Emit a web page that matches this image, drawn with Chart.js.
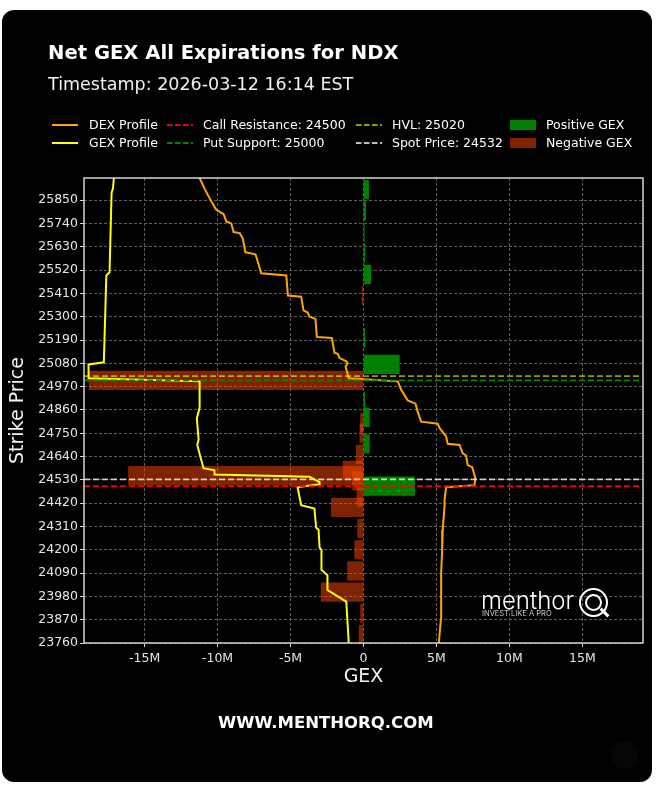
<!DOCTYPE html>
<html>
<head>
<meta charset="utf-8">
<title>Net GEX All Expirations for NDX</title>
<script src="https://cdn.jsdelivr.net/npm/chart.js@4.4.1/dist/chart.umd.min.js"></script>
<style>
  html, body { margin: 0; padding: 0; background: #ffffff; }
  body { position: relative; width: 659px; height: 785px; overflow: hidden; }
  #card { position: absolute; left: 2px; top: 10px; width: 650px; height: 772px; background: #000; border-radius: 12px; }
  #gexChart { position: absolute; left: 0; top: 0; }
  .txt { position: absolute; color: #fff; white-space: nowrap; }
  #title { left: 48px; top: 43px; font: 700 19.6px/19.6px "DejaVu Sans", sans-serif; }
  #subtitle { left: 48px; top: 76px; font: 400 17.5px/17.5px "DejaVu Sans", sans-serif; color: #f0f0f0; }
  .lg-text { position: absolute; font: 12.5px/14px "DejaVu Sans", sans-serif; color: #fff; white-space: nowrap; }
  .lg-mark { position: absolute; }
  #footer { left: 218px; top: 715px; font: 700 16.5px/16.5px "DejaVu Sans", sans-serif; }
  #logoWord { left: 481px; top: 589px; font: 300 24px/24px Inter, sans-serif; }
  #logoTag { left: 482px; top: 610px; font: 400 7.5px/7.5px Inter, sans-serif; color: #c8c8c8; }
  .ring { position: absolute; border: 2.5px solid #fff; border-radius: 50%; box-sizing: border-box; }
  #qOuter { left: 579px; top: 588px; width: 29px; height: 29px; }
  #qInner { left: 585px; top: 594px; width: 17px; height: 17px; border-width: 2px; }
  #qTail { position: absolute; left: 599px; top: 611px; width: 11px; height: 3px; background: #fff; transform: rotate(45deg); }
  #corner { position: absolute; left: 611px; top: 741px; width: 28px; height: 28px; border-radius: 50%; background: #060606; }
</style>
</head>
<body>
<div id="card"></div>
<div id="corner"></div>
<canvas id="gexChart" width="659" height="785"></canvas>
<div id="title" class="txt">Net GEX All Expirations for NDX</div>
<div id="subtitle" class="txt">Timestamp: 2026-03-12 16:14 EST</div>
<div id="legend"></div>
<div id="logoWord" class="txt">menthor</div>
<div id="qOuter" class="ring"></div>
<div id="qInner" class="ring"></div>
<div id="qTail"></div>
<div id="logoTag" class="txt">INVEST LIKE A PRO</div>
<div id="footer" class="txt">WWW.MENTHORQ.COM</div>

<script>
// Net GEX per strike (millions)
const barStrikes = [25900, 25800, 25700, 25600, 25500, 25400, 25200, 25075, 25000, 24900,
  24825, 24800, 24750, 24700, 24650, 24575, 24550, 24525, 24500, 24450,
  24400, 24300, 24200, 24100, 24000, 23900, 23800];
const barGex = [0.35, 0.15, 0.05, 0.1, 0.5, -0.1, 0.1, 2.45, -18.8, 0.1,
  0.4, -0.2, -0.25, 0.4, -0.5, -1.4, -16.1, -0.75, 3.5, -0.45,
  -2.2, -0.4, -0.6, -1.1, -2.9, -0.2, -0.3];

// GEX profile (yellow line)
const gexStrikes = [25955, 25905, 25885, 25510, 25495, 25085, 25075, 25010, 24995, 24870,
  24820, 24720, 24695, 24635, 24585, 24575, 24555, 24545, 24520, 24510,
  24495, 24410, 24395, 24305, 24295, 24210, 24200, 24105, 24080, 24010,
  23955, 23760];
const gexProfile = [-17.10, -17.17, -17.26, -17.40, -17.62, -17.79, -18.84, -18.84, -11.23, -11.23,
  -11.42, -11.30, -11.39, -11.16, -10.96, -10.21, -10.21, -3.70, -3.01, -3.01,
  -4.52, -4.27, -3.36, -3.25, -3.08, -3.01, -2.88, -2.88, -2.47, -2.47,
  -1.18, -1.01];

// DEX profile (orange line)
const dexStrikes = [25955, 25905, 25860, 25805, 25785, 25750, 25740, 25700, 25695, 25670,
  25605, 25595, 25560, 25505, 25495, 25400, 25395, 25330, 25320, 25300,
  25290, 25205, 25200, 25130, 25125, 25105, 25090, 25080, 25065, 25010,
  24995, 24955, 24930, 24905, 24890, 24850, 24805, 24795, 24775, 24735,
  24700, 24695, 24655, 24645, 24600, 24590, 24535, 24505, 24495, 24435,
  24405, 24295, 24200, 24090, 23885, 23760];
const dexProfile = [-11.23, -10.89, -10.55, -10.09, -9.59, -9.40, -9.06, -8.90, -8.49, -8.27,
  -8.10, -7.40, -7.24, -7.01, -5.29, -5.18, -4.27, -4.11, -3.82, -3.70,
  -3.29, -3.20, -2.17, -1.99, -1.76, -1.64, -1.18, -1.08, -1.23, -1.01,
  2.35, 2.58, 2.81, 3.03, 3.56, 3.72, 3.95, 5.09, 5.21, 5.66,
  5.77, 6.58, 6.80, 7.03, 7.14, 7.45, 7.67, 7.60, 5.66, 5.55,
  5.55, 5.43, 5.39, 5.32, 5.32, 5.16];

// key levels
const levelNames = ["Call Resistance", "Put Support", "HVL", "Spot Price"];
const levelValues = [24500, 25000, 25020, 24532];
const levelColors = ["rgba(255,0,0,0.95)", "rgb(0,135,0)", "rgba(255,255,0,0.6)", "rgba(255,255,255,0.75)"];

// axes
const xTickValues = [-15, -10, -5, 0, 5, 10, 15];
const yTickValues = [23760, 23870, 23980, 24090, 24200, 24310, 24420, 24530, 24640, 24750,
  24860, 24970, 25080, 25190, 25300, 25410, 25520, 25630, 25740, 25850];
const xLimit = 19.15;
const yMin = 23760;
const yMax = 25955;

const dexColor = "#ffa500";
const gexColor = "#ffff00";
const posColor = "rgb(0,128,0)";
const negColor = "rgba(255,69,0,0.5)";

// Build HTML legend (4 columns x 2 rows, like the matplotlib one)
function buildLegend() {
  const colMark = [52, 167, 356, 510];
  const colText = [89, 203, 392, 546];
  const rowY = [125, 143];
  const items = [
    { label: "DEX Profile", kind: "line", color: dexColor, col: 0, row: 0 },
    { label: "GEX Profile", kind: "line", color: gexColor, col: 0, row: 1 },
    { label: `${levelNames[0]}: ${levelValues[0]}`, kind: "dash", color: levelColors[0], col: 1, row: 0 },
    { label: `${levelNames[1]}: ${levelValues[1]}`, kind: "dash", color: levelColors[1], col: 1, row: 1 },
    { label: `${levelNames[2]}: ${levelValues[2]}`, kind: "dash", color: levelColors[2], col: 2, row: 0 },
    { label: `${levelNames[3]}: ${levelValues[3]}`, kind: "dash", color: levelColors[3], col: 2, row: 1 },
    { label: "Positive GEX", kind: "patch", color: posColor, col: 3, row: 0 },
    { label: "Negative GEX", kind: "patch", color: negColor, col: 3, row: 1 },
  ];
  const box = document.getElementById("legend");
  items.forEach((it) => {
    const cy = rowY[it.row];
    let svg;
    if (it.kind === "patch") {
      svg = `<svg class="lg-mark" width="26" height="10" style="left:${colMark[it.col]}px;top:${cy - 5}px"><rect x="0" y="0" width="26" height="10" fill="${it.color}"/></svg>`;
    } else {
      const dash = it.kind === "dash" ? 'stroke-dasharray="5.5 2.5"' : "";
      svg = `<svg class="lg-mark" width="26" height="10" style="left:${colMark[it.col]}px;top:${cy - 5}px"><line x1="0" y1="5" x2="26" y2="5" stroke="${it.color}" stroke-width="2" ${dash}/></svg>`;
    }
    box.insertAdjacentHTML("beforeend", svg +
      `<div class="lg-text" style="left:${colText[it.col]}px;top:${cy - 7}px">${it.label}</div>`);
  });
}
buildLegend();

// horizontal dashed level lines
const levelLines = {
  id: "levelLines",
  afterDatasetsDraw(chart) {
    const { ctx, chartArea, scales } = chart;
    ctx.save();
    ctx.lineWidth = 1.8;
    ctx.setLineDash([6, 3]);
    levelValues.forEach((v, i) => {
      const y = scales.y.getPixelForValue(v);
      ctx.strokeStyle = levelColors[i];
      ctx.beginPath();
      ctx.moveTo(chartArea.left, y);
      ctx.lineTo(chartArea.right, y);
      ctx.stroke();
    });
    ctx.restore();
  },
};

// white box around the plot
const frame = {
  id: "frame",
  afterDraw(chart) {
    const { ctx, chartArea } = chart;
    ctx.save();
    ctx.strokeStyle = "#d4d4d4";
    ctx.lineWidth = 1.5;
    ctx.strokeRect(chartArea.left, chartArea.top, chartArea.right - chartArea.left, chartArea.bottom - chartArea.top);
    ctx.restore();
  },
};

function renderChart() {
  const points = barStrikes.map((s, i) => ({ x: barGex[i], y: s }));
  const ctx = document.getElementById("gexChart").getContext("2d");
  Chart.defaults.font.family = "DejaVu Sans";

  new Chart(ctx, {
    type: "bar",
    data: {
      datasets: [
        {
          type: "scatter",
          label: "DEX Profile",
          data: dexStrikes.map((s, i) => ({ x: dexProfile[i], y: s })),
          showLine: true,
          borderColor: dexColor,
          borderWidth: 2,
          pointRadius: 0,
          order: 1,
        },
        {
          type: "scatter",
          label: "GEX Profile",
          data: gexStrikes.map((s, i) => ({ x: gexProfile[i], y: s })),
          showLine: true,
          borderColor: gexColor,
          borderWidth: 2,
          pointRadius: 0,
          order: 0,
        },
        {
          label: "Positive GEX",
          data: points.filter((p) => p.x > 0),
          backgroundColor: posColor,
          barThickness: 18.6,
          grouped: false,
          order: 3,
        },
        {
          label: "Negative GEX",
          data: points.filter((p) => p.x < 0),
          backgroundColor: negColor,
          barThickness: 18.6,
          grouped: false,
          order: 2,
        },
      ],
    },
    options: {
      indexAxis: "y",
      responsive: false,
      animation: false,
      layout: { padding: { top: 178, right: 16, bottom: 0, left: 0 } },
      plugins: {
        legend: { display: false },
        tooltip: { enabled: false },
      },
      scales: {
        x: {
          type: "linear",
          min: -xLimit,
          max: xLimit,
          afterBuildTicks: (scale) => {
            scale.ticks = xTickValues.map((v) => ({ value: v }));
          },
          afterFit: (scale) => {
            scale.height = 142;
          },
          ticks: {
            color: "#e6e6e6",
            font: { size: 12.5 },
            padding: 4,
            maxRotation: 0,
            callback: (v) => (v === 0 ? "0" : v + "M"),
          },
          grid: {
            color: "#5e5e5e",
            lineWidth: 1,
            tickColor: "#d4d4d4",
            tickLength: 4,
            tickBorderDash: [],
          },
          border: { display: false, dash: [3, 2] },
          title: {
            display: true,
            text: "GEX",
            color: "#f2f2f2",
            font: { size: 19 },
            padding: { top: 0, bottom: 97 },
          },
        },
        y: {
          type: "linear",
          min: yMin,
          max: yMax,
          offset: false,
          afterBuildTicks: (scale) => {
            scale.ticks = yTickValues.map((v) => ({ value: v }));
          },
          afterFit: (scale) => {
            scale.width = 84;
          },
          ticks: {
            color: "#e6e6e6",
            font: { size: 12.5 },
            padding: 2,
            callback: (v) => String(v),
          },
          grid: {
            offset: false,
            color: "#5e5e5e",
            lineWidth: 1,
            tickColor: "#d4d4d4",
            tickLength: 4,
            tickBorderDash: [],
          },
          border: { display: false, dash: [3, 2] },
          title: {
            display: true,
            text: "Strike Price",
            color: "#f2f2f2",
            font: { size: 19 },
            padding: { top: 7, bottom: 0 },
          },
        },
      },
    },
    plugins: [levelLines, frame],
  });
}

renderChart();
</script>
</body>
</html>
